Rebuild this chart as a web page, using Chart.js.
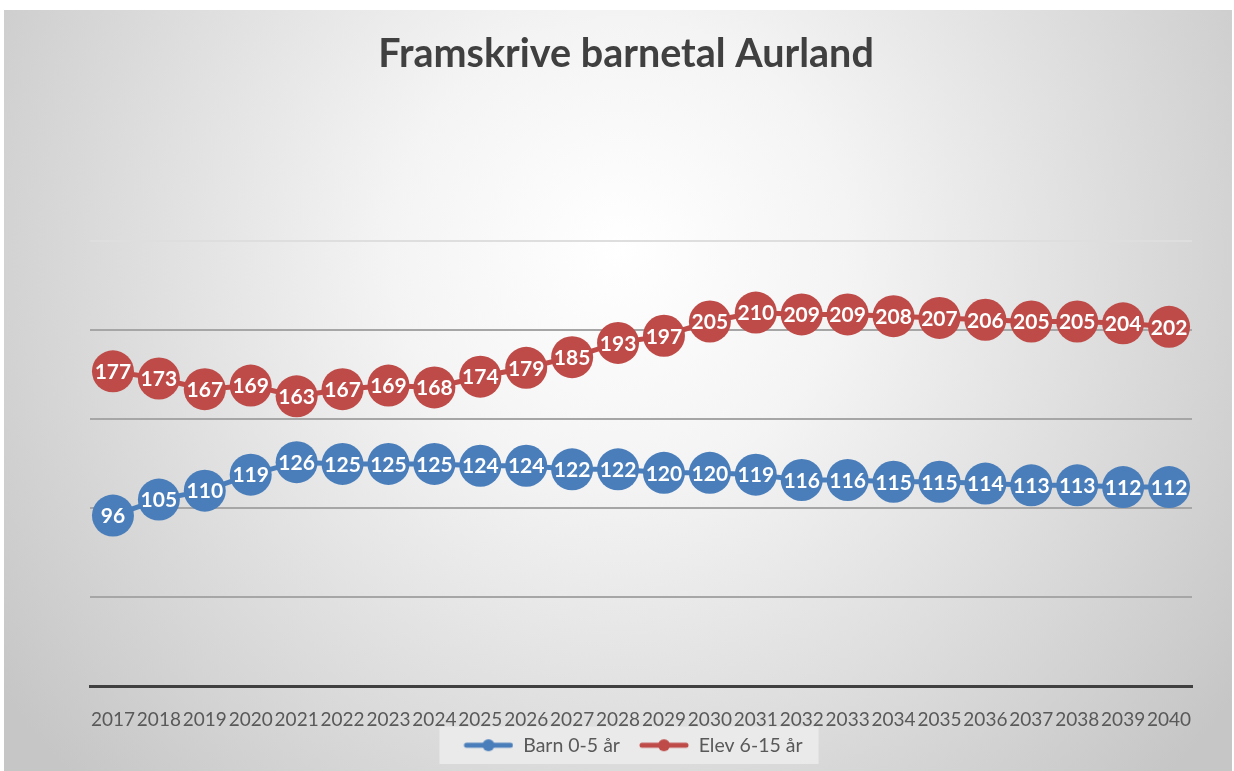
<!DOCTYPE html>
<html>
<head>
<meta charset="utf-8">
<script src="https://cdn.jsdelivr.net/npm/chart.js@4.4.0/dist/chart.umd.min.js"></script>
<style>
  html, body { margin: 0; padding: 0; background: #fff; }
  #wrap { width: 1234px; height: 771px; }
</style>
</head>
<body>
<div id="wrap"><canvas id="myChart" width="1234" height="771"></canvas></div>
<script>
const years = ['2017','2018','2019','2020','2021','2022','2023','2024','2025','2026','2027','2028',
  '2029','2030','2031','2032','2033','2034','2035','2036','2037','2038','2039','2040'];
const barn = [96,105,110,119,126,125,125,125,124,124,122,122,120,120,119,116,116,115,115,114,113,113,112,112];
const elev = [177,173,167,169,163,167,169,168,174,179,185,193,197,205,210,209,209,208,207,206,205,205,204,202];

const blue = '#4a7ebb';
const red = '#be4b48';

function legendIcon(color) {
  const c = document.createElement('canvas');
  c.width = 64;
  c.height = 14;
  const g = c.getContext('2d');
  g.strokeStyle = color;
  g.lineWidth = 5;
  g.lineCap = 'round';
  g.beginPath();
  g.moveTo(17, 7);
  g.lineTo(61, 7);
  g.stroke();
  g.fillStyle = color;
  g.beginPath();
  g.arc(39, 7, 6, 0, Math.PI * 2);
  g.fill();
  return c;
}

const backdrop = {
  id: 'backdrop',
  beforeDraw(chart) {
    const ctx = chart.ctx;
    ctx.save();
    ctx.fillStyle = '#fff';
    ctx.fillRect(0, 0, chart.width, chart.height);
    const grad = ctx.createRadialGradient(620, 250, 0, 620, 250, 760);
    grad.addColorStop(0, '#ffffff');
    grad.addColorStop(0.3, '#f4f4f4');
    grad.addColorStop(1, '#c6c6c6');
    ctx.fillStyle = grad;
    ctx.fillRect(4, 10, chart.width - 6, chart.height - 10);
    // legend box
    const boxes = chart.legend.legendHitBoxes;
    if (boxes && boxes.length) {
      const l = Math.min(...boxes.map(b => b.left)) - 10;
      const r = Math.max(...boxes.map(b => b.left + b.width)) + 16;
      const t = boxes[0].top - 9;
      const h = boxes[0].height + 18;
      ctx.fillStyle = 'rgba(235,235,235,0.9)';
      ctx.fillRect(l, t, r - l, h);
    }
    ctx.restore();
  }
};

const pointLabels = {
  id: 'pointLabels',
  afterDatasetsDraw(chart) {
    const ctx = chart.ctx;
    ctx.save();
    ctx.font = 'bold 21px Lato';
    ctx.fillStyle = '#fff';
    ctx.textAlign = 'center';
    ctx.textBaseline = 'middle';
    chart.data.datasets.forEach((ds, i) => {
      chart.getDatasetMeta(i).data.forEach((pt, j) => {
        ctx.fillText(ds.data[j], pt.x, pt.y + 1);
      });
    });
    ctx.restore();
  }
};

const ctx = document.getElementById('myChart').getContext('2d');
const myChart = new Chart(ctx, {
  type: 'line',
  data: {
    labels: years,
    datasets: [{
      label: 'Barn 0-5 år',
      data: barn,
      borderColor: blue,
      backgroundColor: blue,
      borderWidth: 5,
      pointRadius: 21,
      pointHoverRadius: 21,
      pointBorderWidth: 0,
      pointStyle: 'circle'
    }, {
      label: 'Elev 6-15 år',
      data: elev,
      borderColor: red,
      backgroundColor: red,
      borderWidth: 5,
      pointRadius: 21,
      pointHoverRadius: 21,
      pointBorderWidth: 0,
      pointStyle: 'circle'
    }]
  },
  options: {
    responsive: false,
    animation: false,
    layout: { padding: { left: 60, right: 42, top: 0, bottom: 6 } },
    plugins: {
      title: {
        display: true,
        text: 'Framskrive barnetal Aurland',
        color: '#404040',
        font: { family: 'Lato', size: 39.5, weight: 'bold' },
        padding: { top: 31, bottom: 163 }
      },
      legend: {
        position: 'bottom',
        labels: {
          color: '#595959',
          font: { family: 'Lato', size: 19.5 },
          usePointStyle: true,
          pointStyleWidth: 64,
          padding: 5,
          generateLabels(chart) {
            return chart.data.datasets.map((ds, i) => ({
              text: ds.label,
              fontColor: '#595959',
              pointStyle: legendIcon(ds.borderColor),
              strokeStyle: 'transparent',
              fillStyle: 'transparent',
              lineWidth: 0,
              datasetIndex: i
            }));
          }
        }
      },
      tooltip: { enabled: false }
    },
    scales: {
      x: {
        offset: true,
        afterFit: scale => { scale.height = 44; },
        grid: { display: false, drawTicks: false },
        border: { display: true, color: '#404040', width: 3 },
        ticks: {
          color: '#595959',
          font: { family: 'Lato', size: 19 },
          padding: 22,
          maxRotation: 0,
          autoSkip: false
        }
      },
      y: {
        min: 0,
        max: 250,
        afterFit: scale => { scale.width = 30; },
        ticks: { stepSize: 50, display: false },
        border: { display: false },
        grid: {
          drawTicks: false,
          lineWidth: 2,
          color: c => c.tick && c.tick.value === 250 ? '#dedede' : '#a6a6a6'
        }
      }
    }
  },
  plugins: [backdrop, pointLabels]
});
</script>
</body>
</html>
